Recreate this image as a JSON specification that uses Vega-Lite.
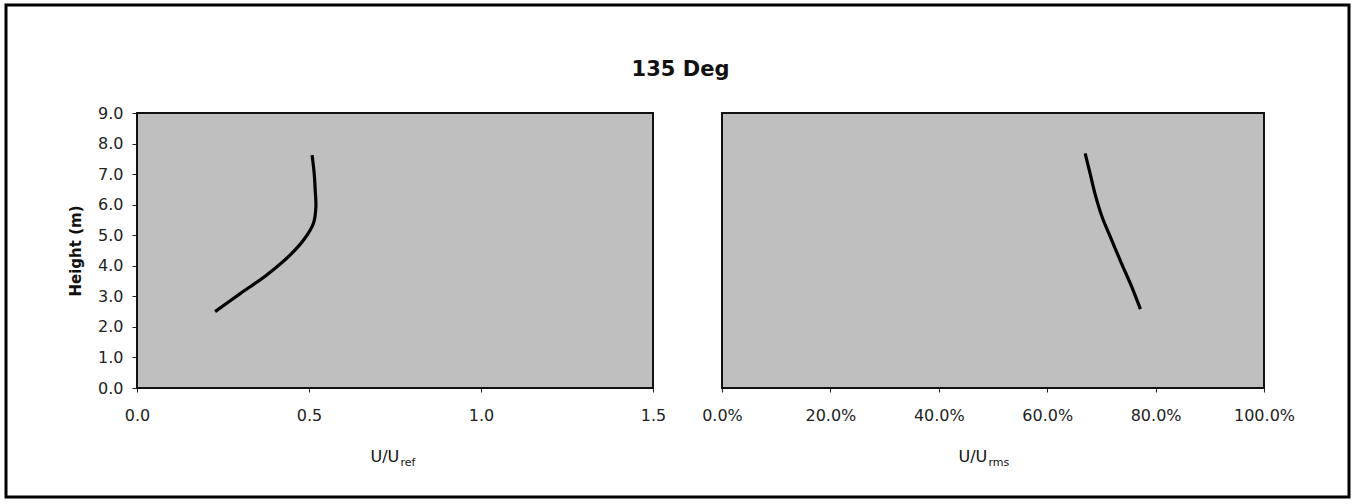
{
  "$schema": "https://vega.github.io/schema/vega-lite/v6.json",
  "autosize": {"type": "none"},
  "padding": {"left": 6, "top": 5, "right": 5, "bottom": 7},
  "width": 1343,
  "height": 492,
  "background": "white",
  "title": {"text": "135 Deg", "font": "DejaVu Sans", "fontSize": 21, "fontWeight": "bold", "color": "#111", "anchor": "middle", "offset": -75, "dx": 3},
  "config": {
    "view": {"stroke": "black", "strokeWidth": 3},
    "axis": {"labelFont": "DejaVu Sans", "labelFontSize": 16, "labelColor": "#222", "tickColor": "#222", "titleFont": "DejaVu Sans", "titleColor": "#111", "grid": false, "domain": false, "labelFlush": false, "labelOverlap": false, "labelBound": false}
  },
  "datasets": {
    "ref": [
      {"u": 0.227, "h": 2.5}, {"u": 0.299, "h": 3.08}, {"u": 0.377, "h": 3.7}, {"u": 0.445, "h": 4.35},
      {"u": 0.488, "h": 4.9}, {"u": 0.513, "h": 5.39}, {"u": 0.52, "h": 5.93}, {"u": 0.518, "h": 6.48},
      {"u": 0.515, "h": 7.03}, {"u": 0.509, "h": 7.62}
    ],
    "rms": [
      {"u": 0.772, "h": 2.58}, {"u": 0.756, "h": 3.31}, {"u": 0.737, "h": 4.08}, {"u": 0.719, "h": 4.84},
      {"u": 0.701, "h": 5.61}, {"u": 0.688, "h": 6.37}, {"u": 0.679, "h": 7.03}, {"u": 0.67, "h": 7.68}
    ]
  },
  "layer": [
    {
      "layer": [
        {
          "data": {"values": [{}]},
          "mark": {"type": "rect", "fill": "#bfbfbf", "stroke": "#111", "strokeWidth": 2},
          "encoding": {
            "x": {"datum": 0, "type": "quantitative", "scale": {"domain": [0, 1.5], "range": [131, 647], "nice": false, "zero": false},
                  "axis": {"orient": "bottom", "offset": -109, "labels": false, "ticks": false, "title": "ref", "titleFontSize": 11, "titleFontWeight": "normal", "titleX": 394, "titleY": 77, "titleAlign": "left", "titleBaseline": "alphabetic"}},
            "x2": {"datum": 1.5},
            "y": {"datum": 0, "type": "quantitative", "scale": {"domain": [0, 9], "range": [383, 108], "nice": false, "zero": false},
                  "axis": {"orient": "left", "offset": -131, "values": [0,1,2,3,4,5,6,7,8,9], "format": ".1f", "tickSize": 5, "labelPadding": 9, "title": "Height (m)", "titleFontSize": 15, "titleFontWeight": "bold", "titlePadding": 14}},
            "y2": {"datum": 9}
          }
        },
        {
          "data": {"name": "ref"},
          "mark": {"type": "line", "color": "black", "strokeWidth": 3.2, "interpolate": "catmull-rom"},
          "encoding": {
            "x": {"field": "u", "type": "quantitative", "scale": {"domain": [0, 1.5], "range": [131, 647], "nice": false, "zero": false},
                  "axis": {"orient": "bottom", "offset": -109, "values": [0, 0.5, 1, 1.5], "format": ".1f", "tickSize": 4, "labelPadding": 15, "title": "U/U", "titleFontSize": 16, "titleFontWeight": "normal", "titleX": 364, "titleY": 73, "titleAlign": "left", "titleBaseline": "alphabetic"}},
            "y": {"field": "h", "type": "quantitative", "scale": {"domain": [0, 9], "range": [383, 108], "nice": false, "zero": false},
                  "axis": {"orient": "left", "offset": -131, "values": [0,1,2,3,4,5,6,7,8,9], "format": ".1f", "tickSize": 5, "labelPadding": 9, "title": "Height (m)", "titleFontSize": 15, "titleFontWeight": "bold", "titlePadding": 14}},
            "order": {"field": "h", "type": "quantitative"}
          }
        }
      ],
      "resolve": {"axis": {"x": "independent"}}
    },
    {
      "layer": [
        {
          "data": {"values": [{}]},
          "mark": {"type": "rect", "fill": "#bfbfbf", "stroke": "#111", "strokeWidth": 2},
          "encoding": {
            "x": {"datum": 0, "type": "quantitative", "scale": {"domain": [0, 1], "range": [716, 1258], "nice": false, "zero": false},
                  "axis": {"orient": "bottom", "offset": -109, "labels": false, "ticks": false, "title": "rms", "titleFontSize": 11, "titleFontWeight": "normal", "titleX": 982, "titleY": 77, "titleAlign": "left", "titleBaseline": "alphabetic"}},
            "x2": {"datum": 1},
            "y": {"datum": 0, "type": "quantitative", "scale": {"domain": [0, 9], "range": [383, 108], "nice": false, "zero": false},
                  "axis": {"orient": "left", "offset": -131, "values": [0,1,2,3,4,5,6,7,8,9], "format": ".1f", "tickSize": 5, "labelPadding": 9, "title": "Height (m)", "titleFontSize": 15, "titleFontWeight": "bold", "titlePadding": 14}},
            "y2": {"datum": 9}
          }
        },
        {
          "data": {"name": "rms"},
          "mark": {"type": "line", "color": "black", "strokeWidth": 3.2, "interpolate": "catmull-rom"},
          "encoding": {
            "x": {"field": "u", "type": "quantitative", "scale": {"domain": [0, 1], "range": [716, 1258], "nice": false, "zero": false},
                  "axis": {"orient": "bottom", "offset": -109, "values": [0, 0.2, 0.4, 0.6, 0.8, 1], "format": ".1%", "tickSize": 4, "labelPadding": 15, "title": "U/U", "titleFontSize": 16, "titleFontWeight": "normal", "titleX": 952, "titleY": 73, "titleAlign": "left", "titleBaseline": "alphabetic"}},
            "y": {"field": "h", "type": "quantitative", "scale": {"domain": [0, 9], "range": [383, 108], "nice": false, "zero": false},
                  "axis": {"orient": "left", "offset": -131, "values": [0,1,2,3,4,5,6,7,8,9], "format": ".1f", "tickSize": 5, "labelPadding": 9, "title": "Height (m)", "titleFontSize": 15, "titleFontWeight": "bold", "titlePadding": 14}},
            "order": {"field": "h", "type": "quantitative"}
          }
        }
      ],
      "resolve": {"axis": {"x": "independent"}}
    }
  ],
  "resolve": {"scale": {"x": "independent"}, "axis": {"x": "independent"}}
}
